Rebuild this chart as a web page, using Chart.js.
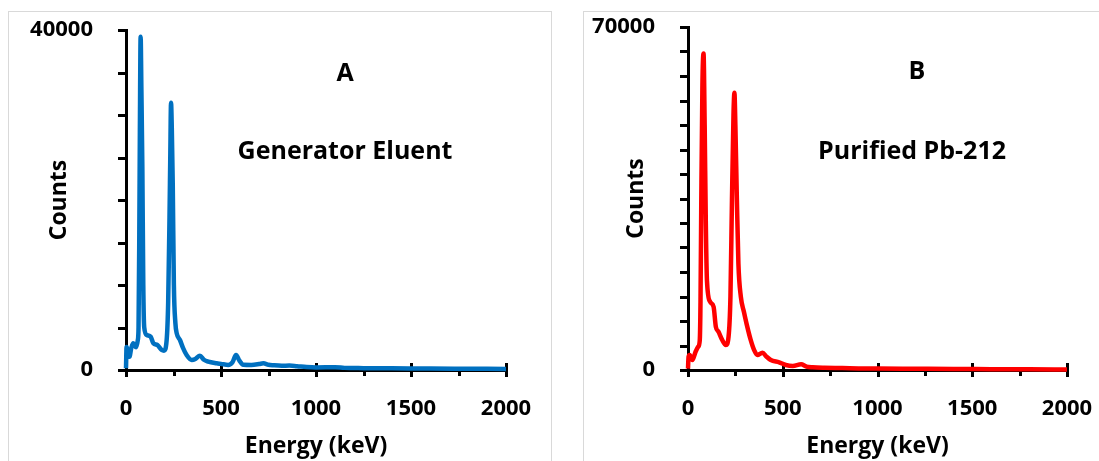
<!DOCTYPE html>
<html>
<head>
<meta charset="utf-8">
<script src="https://cdn.jsdelivr.net/npm/chart.js@4"></script>
<style>
  html, body { margin:0; padding:0; background:#fff; overflow:hidden; width:1099px; height:461px; }
  .panel { position:absolute; top:11px; height:460px; border:1px solid #d9d9d9; background:#fff; }
  #pA { left:8px; width:542px; }
  #pB { left:583px; width:530px; }
  canvas { display:block; }
</style>
</head>
<body>
<div class="panel" id="pA"><canvas id="chartA"></canvas></div>
<div class="panel" id="pB"><canvas id="chartB"></canvas></div>
<script>
// panel A: generator eluent
const energyA = [0, 3, 10, 18, 28, 38, 53, 62, 66, 70, 73, 77, 81, 86, 91, 96, 109, 130, 144, 165, 188, 200, 214, 222, 229, 233, 237, 241, 246, 252, 260, 267, 284, 300, 319, 346, 365, 389, 410, 433, 477, 500, 538, 560, 579, 597, 617, 660, 700, 723, 750, 775, 820, 860, 900, 950, 1000, 1100, 1150, 1250, 1400, 1600, 1800, 2000];
const countsA = [200, 2700, 1700, 1560, 2600, 3140, 2670, 3500, 5000, 16000, 28000, 39200, 33000, 23900, 10000, 5000, 4120, 3920, 3140, 2940, 2350, 2270, 3530, 8000, 18000, 25000, 31450, 28500, 22000, 10000, 5500, 4310, 3530, 2600, 1760, 1180, 1300, 1690, 1200, 980, 790, 720, 600, 900, 1760, 1100, 620, 600, 700, 790, 620, 560, 500, 520, 450, 350, 300, 320, 250, 220, 200, 180, 150, 120];

// panel B: purified Pb-212
const energyB = [0, 3, 9, 23, 40, 54, 62, 66, 70, 76, 82, 88, 94, 100, 117, 135, 147, 161, 179, 200, 214, 224, 232, 240, 245, 250, 258, 266, 279, 295, 313, 330, 349, 366, 393, 415, 437, 481, 516, 553, 597, 625, 658, 720, 814, 900, 1000, 1200, 1400, 1600, 1800, 2000];
const countsB = [300, 2700, 3050, 2030, 3730, 4750, 6000, 14000, 34000, 58000, 64600, 50000, 30000, 18300, 13900, 12900, 8800, 7800, 6250, 5090, 6780, 15000, 34700, 52000, 56600, 50000, 34700, 21700, 14900, 11900, 8800, 6250, 4070, 3050, 3530, 2700, 2030, 1560, 1020, 810, 1160, 700, 550, 450, 400, 330, 300, 250, 200, 170, 130, 100];

const xLabels = [0, 500, 1000, 1500, 2000];
const yLabelsA = [0, 40000];
const yLabelsB = [0, 70000];

Chart.defaults.font.family = "'Open Sans', sans-serif";
Chart.defaults.font.weight = 'bold';
Chart.defaults.color = '#000';

// tick marks drawn like the office chart: majors cross the x axis, minors hang below
const tickMarks = {
	id: 'tickMarks',
	beforeDatasetsDraw(chart) {
		const { ctx, chartArea, scales: { x, y } } = chart;
		ctx.save();
		ctx.strokeStyle = '#000';
		ctx.lineWidth = 3;
		const seg = (x1, y1, x2, y2) => { ctx.beginPath(); ctx.moveTo(x1, y1); ctx.lineTo(x2, y2); ctx.stroke(); };
		for (const t of y.ticks) {
			const py = Math.round(y.getPixelForValue(t.value)) + 0.5;
			seg(chartArea.left - 8, py, chartArea.left, py);
		}
		const b = chartArea.bottom;
		for (const t of x.ticks) {
			const px = Math.round(x.getPixelForValue(t.value)) + 0.5;
			if (t.value % 500 === 0) seg(px, b - 7, px, b + 7);
			else seg(px, b, px, b + 6);
		}
		ctx.restore();
	}
};

const panelText = {
	id: 'panelText',
	afterDraw(chart, args, opts) {
		const { ctx } = chart;
		ctx.save();
		ctx.fillStyle = '#000';
		ctx.textAlign = 'center';
		ctx.textBaseline = 'alphabetic';
		for (const it of opts.items || []) {
			ctx.font = `bold ${it.size}px 'Open Sans', sans-serif`;
			ctx.fillText(it.text, it.x, it.y);
		}
		ctx.restore();
	}
};

function makeChart(id, w, h, energy, counts, color, yLabels, box, texts) {
	const canvas = document.getElementById(id);
	canvas.width = w;
	canvas.height = h;
	canvas.style.width = w + 'px';
	canvas.style.height = h + 'px';
	const yMax = yLabels[yLabels.length - 1];
	return new Chart(canvas, {
		type: 'line',
		data: {
			datasets: [{
				data: energy.map((e, i) => ({ x: e, y: counts[i] })),
				borderColor: color,
				borderWidth: 4.5,
				pointRadius: 0,
				fill: false,
				cubicInterpolationMode: 'monotone',
				clip: false
			}]
		},
		options: {
			responsive: false,
			animation: false,
			events: [],
			layout: { padding: { left: 0, top: box.top, right: w - box.right, bottom: 0 } },
			plugins: {
				legend: { display: false },
				tooltip: { enabled: false },
				panelText: { items: texts }
			},
			scales: {
				x: {
					type: 'linear',
					min: 0,
					max: 2000,
					grid: { display: false },
					border: { display: true, color: '#000', width: 3 },
					ticks: {
						stepSize: 250,
						autoSkip: false,
						maxRotation: 0,
						padding: 18,
						font: { size: 22, weight: 'bold' },
						callback: v => xLabels.includes(v) ? String(v) : ''
					},
					title: { display: true, text: 'Energy (keV)', font: { size: 23, weight: 'bold' }, padding: { top: 0, bottom: 1 } },
					afterFit: s => { s.height = h - box.bottom; s.paddingLeft = 0; s.paddingRight = 0; }
				},
				y: {
					min: 0,
					max: yMax,
					grid: { display: false },
					border: { display: true, color: '#000', width: 3 },
					ticks: {
						stepSize: 5000,
						autoSkip: false,
						padding: 25,
						font: { size: 22, weight: 'bold' },
						callback: v => yLabels.includes(v) ? String(v) : ''
					},
					title: { display: true, text: 'Counts', font: { size: 23, weight: 'bold' }, padding: { top: box.titleX - 14, bottom: 0 } },
					afterFit: s => { s.width = box.left; s.paddingTop = 0; s.paddingBottom = 0; }
				}
			}
		},
		plugins: [tickMarks, panelText]
	});
}

makeChart('chartA', 541, 449, energyA, countsA, '#0070C0', yLabelsA,
	{ left: 117, right: 497, top: 18, bottom: 358, titleX: 51 },
	[{ text: 'A', x: 336, y: 69, size: 25 }, { text: 'Generator Eluent', x: 336, y: 147, size: 25 }]);

makeChart('chartB', 515, 449, energyB, countsB, '#FF0000', yLabelsB,
	{ left: 104, right: 483, top: 15, bottom: 358, titleX: 53 },
	[{ text: 'B', x: 333, y: 67, size: 25 }, { text: 'Purified Pb-212', x: 328, y: 147, size: 25 }]);
</script>
</body>
</html>
